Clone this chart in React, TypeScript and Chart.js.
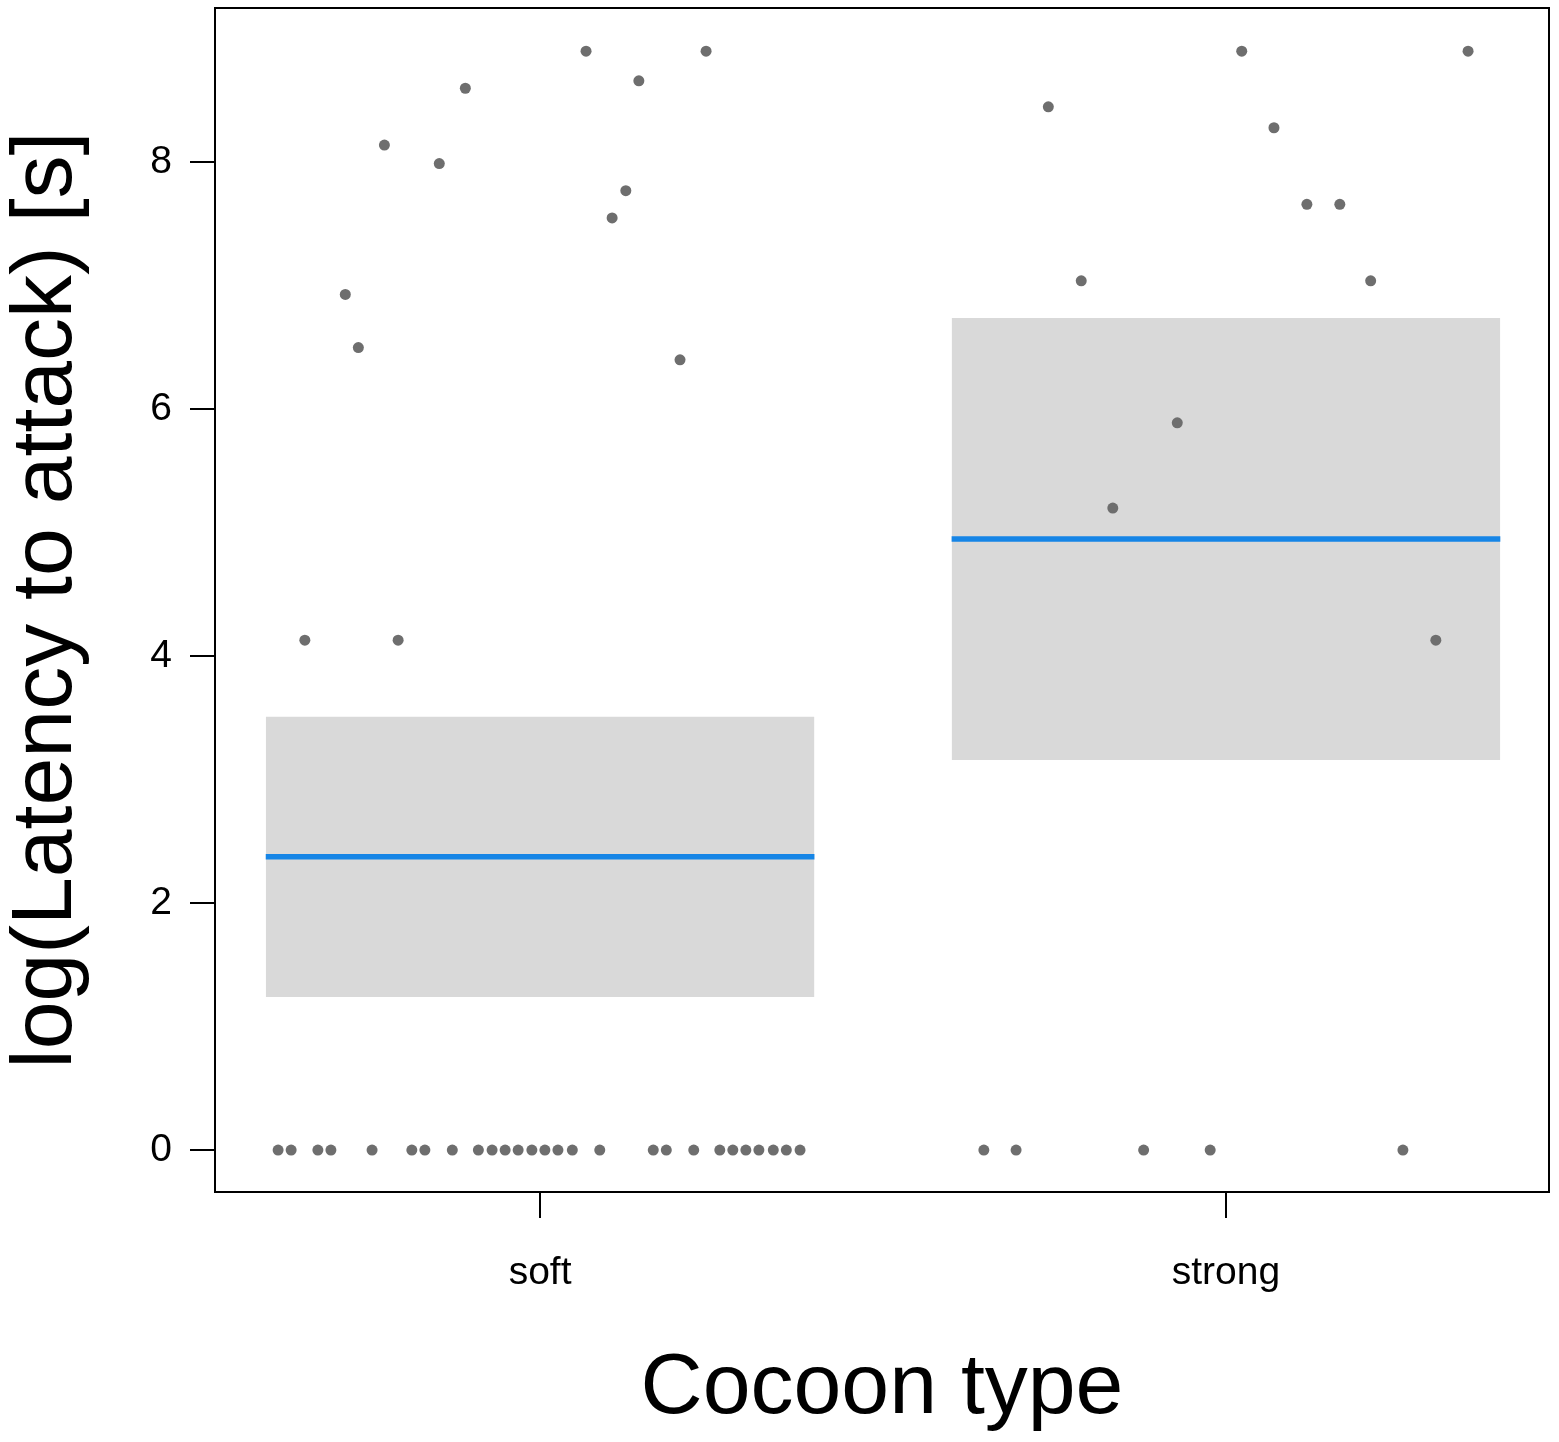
import React, { useEffect, useRef } from "react";
import { Chart, registerables } from "chart.js";

Chart.register(...registerables);

// Categories and summary values
const categories = ["soft", "strong"];
const bandLow = [1.24, 3.16];
const bandHigh = [3.51, 6.74];
const meanValue = [2.375, 4.95];

// Raw points (x = jittered category position, y = log latency)
const softX = [
  0.618, 0.637, 0.676, 0.695, 0.755, 0.813, 0.832, 0.872, 0.91, 0.93, 0.949, 0.968, 0.988, 1.007,
  1.026, 1.047, 1.087, 1.165, 1.184, 1.224, 1.262, 1.281, 1.3, 1.319, 1.34, 1.359, 1.379,
  0.657, 0.793, 0.716, 0.735, 0.773, 0.853, 0.891, 1.067, 1.105, 1.125, 1.144, 1.204, 1.242,
];
const softY = [
  0, 0, 0, 0, 0, 0, 0, 0, 0, 0, 0, 0, 0, 0,
  0, 0, 0, 0, 0, 0, 0, 0, 0, 0, 0, 0, 0,
  4.13, 4.13, 6.93, 6.5, 8.14, 7.99, 8.6, 8.9, 7.55, 7.77, 8.66, 6.4, 8.9,
];
const strongX = [
  1.647, 1.694, 1.88, 1.977, 2.258,
  1.741, 1.789, 1.835, 1.929, 2.023, 2.07, 2.118, 2.166, 2.211, 2.306, 2.353,
];
const strongY = [
  0, 0, 0, 0, 0,
  8.45, 7.04, 5.2, 5.89, 8.9, 8.28, 7.66, 7.66, 7.04, 4.13, 8.9,
];
const yTicks = [0, 2, 4, 6, 8];

const BAND_HALF = 0.4;
const FONT = "'Liberation Sans', Arial, Helvetica, sans-serif";

const boxPlugin = {
  id: "plotBox",
  afterDraw(chart: any) {
    const { ctx, chartArea } = chart;
    ctx.save();
    ctx.strokeStyle = "#000";
    ctx.lineWidth = 2;
    ctx.strokeRect(chartArea.left, chartArea.top, chartArea.right - chartArea.left, chartArea.bottom - chartArea.top);
    ctx.restore();
  },
};

export default function App() {
  const ref = useRef<HTMLCanvasElement | null>(null);

  useEffect(() => {
    document.body.style.margin = "0";
    if (!ref.current) return;

    const bandDatasets: any[] = [];
    categories.forEach((_, i) => {
      const c = i + 1;
      bandDatasets.push({
        type: "line",
        data: [
          { x: c - BAND_HALF, y: bandHigh[i] },
          { x: c + BAND_HALF, y: bandHigh[i] },
        ],
        borderWidth: 0,
        borderColor: "rgba(0,0,0,0)",
        backgroundColor: "#d9d9d9",
        pointRadius: 0,
        fill: "+1",
        order: 3,
      });
      bandDatasets.push({
        type: "line",
        data: [
          { x: c - BAND_HALF, y: bandLow[i] },
          { x: c + BAND_HALF, y: bandLow[i] },
        ],
        borderWidth: 0,
        borderColor: "rgba(0,0,0,0)",
        pointRadius: 0,
        fill: false,
        order: 3,
      });
    });
    const meanDatasets = categories.map((_, i) => ({
      type: "line",
      data: [
        { x: i + 1 - BAND_HALF, y: meanValue[i] },
        { x: i + 1 + BAND_HALF, y: meanValue[i] },
      ],
      borderWidth: 5.5,
      borderColor: "#1685e6",
      borderCapStyle: "butt",
      pointRadius: 0,
      fill: false,
      order: 1,
    }));
    const pointStyle = {
      type: "scatter",
      pointRadius: 5.5,
      pointBackgroundColor: "#6e6e6e",
      pointBorderWidth: 0,
      borderColor: "#6e6e6e",
      showLine: false,
      order: 0,
    };
    const pointDatasets = [
      { ...pointStyle, data: softX.map((x, i) => ({ x, y: softY[i] })) },
      { ...pointStyle, data: strongX.map((x, i) => ({ x, y: strongY[i] })) },
    ];

    const chart = new Chart(ref.current, {
      type: "scatter",
      data: { datasets: [...bandDatasets, ...meanDatasets, ...pointDatasets] as any },
      plugins: [boxPlugin],
      options: {
        animation: false,
        responsive: false,
        devicePixelRatio: 1,
        layout: { padding: { left: 0, right: 10, top: 8, bottom: 0 } },
        plugins: { legend: { display: false }, tooltip: { enabled: false } },
        scales: {
          x: {
            type: "linear",
            min: 0.526,
            max: 2.471,
            afterBuildTicks: (scale: any) => {
              scale.ticks = categories.map((_, i) => ({ value: i + 1 }));
            },
            afterFit: (scale: any) => {
              scale.height = 250;
              scale.paddingLeft = 0;
              scale.paddingRight = 0;
            },
            grid: {
              drawOnChartArea: false,
              drawTicks: true,
              tickLength: 26,
              color: "#000",
              lineWidth: 2,
            },
            border: { display: false },
            ticks: {
              autoSkip: false,
              maxRotation: 0,
              padding: 32,
              color: "#000",
              font: { family: FONT, size: 39 },
              callback: (v: any) => categories[Math.round(Number(v)) - 1] ?? "",
            },
            title: {
              display: true,
              text: "Cocoon type",
              color: "#000",
              font: { family: FONT, size: 86, lineHeight: 1 },
              padding: { top: 0, bottom: 10 },
            },
          },
          y: {
            type: "linear",
            min: -0.34,
            max: 9.25,
            afterBuildTicks: (scale: any) => {
              scale.ticks = yTicks.map((v) => ({ value: v }));
            },
            afterFit: (scale: any) => {
              scale.width = 215;
              scale.paddingTop = 0;
              scale.paddingBottom = 0;
            },
            grid: {
              drawOnChartArea: false,
              drawTicks: true,
              tickLength: 25,
              color: "#000",
              lineWidth: 2,
            },
            border: { display: false },
            ticks: {
              padding: 18,
              color: "#000",
              font: { family: FONT, size: 39 },
              callback: (v: any) => String(v),
            },
            title: {
              display: true,
              text: "log(Latency to attack) [s]",
              color: "#000",
              font: { family: FONT, size: 86, lineHeight: 1 },
              padding: { top: 4, bottom: 0 },
            },
          },
        },
      } as any,
    });
    return () => chart.destroy();
  }, []);

  return (
    <div style={{ width: 1559, height: 1442 }}>
      <canvas ref={ref} width={1559} height={1442} style={{ display: "block" }} />
    </div>
  );
}
